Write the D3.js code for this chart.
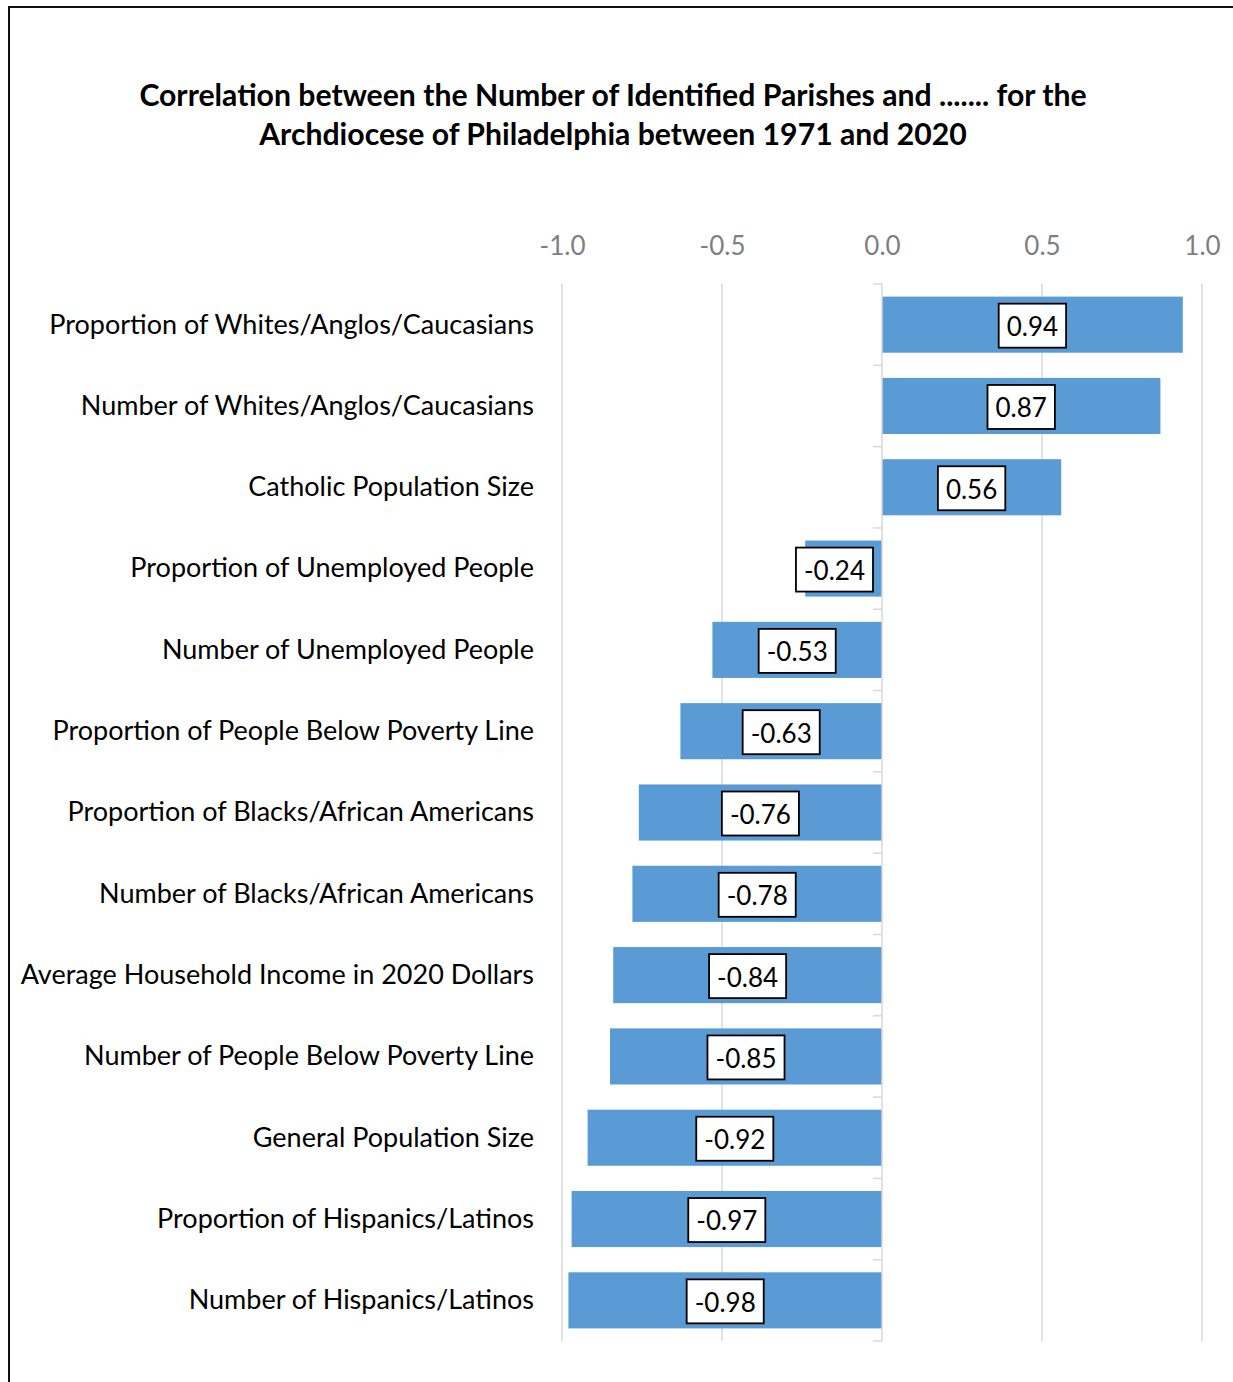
<!DOCTYPE html>
<html>
<head>
<meta charset="utf-8">
<script src="https://cdn.jsdelivr.net/npm/d3@7"></script>
<style>
  html, body { margin: 0; padding: 0; background: #fff; }
  svg { display: block; }
</style>
</head>
<body>
<svg id="chart" width="1233" height="1382"></svg>
<script>
// Correlation coefficients, listed top to bottom
const categories = [
  "Proportion of Whites/Anglos/Caucasians",
  "Number of Whites/Anglos/Caucasians",
  "Catholic Population Size",
  "Proportion of Unemployed People",
  "Number of Unemployed People",
  "Proportion of People Below Poverty Line",
  "Proportion of Blacks/African Americans",
  "Number of Blacks/African Americans",
  "Average Household Income in 2020 Dollars",
  "Number of People Below Poverty Line",
  "General Population Size",
  "Proportion of Hispanics/Latinos",
  "Number of Hispanics/Latinos"
];
const values = [0.94, 0.87, 0.56, -0.24, -0.53, -0.63, -0.76, -0.78, -0.84, -0.85, -0.92, -0.97, -0.98];
const tickValues = [-1.0, -0.5, 0.0, 0.5, 1.0];
const titleLines = [
  "Correlation between the Number of Identified Parishes and ....... for the",
  "Archdiocese of Philadelphia between 1971 and 2020"
];

const FONT = "Lato, 'Liberation Sans', sans-serif";
const svg = d3.select("#chart");

// Outer chart frame (runs off the right and bottom edges)
svg.append("path")
  .attr("d", "M9,1382 V7 H1233")
  .attr("fill", "none")
  .attr("stroke", "#111")
  .attr("stroke-width", 2);

// Title
svg.append("g").selectAll("text")
  .data(titleLines)
  .join("text")
  .attr("x", 613)
  .attr("y", (d, i) => 106 + i * 39)
  .attr("text-anchor", "middle")
  .attr("font-family", FONT)
  .attr("font-weight", "bold")
  .attr("font-size", 30.2)
  .attr("fill", "#000")
  .text(d => d);

const x = d3.scaleLinear().domain([-1, 1]).range([562, 1202]);
const y = d3.scaleBand().domain(categories).range([284, 1341])
  .paddingInner(0.31).paddingOuter(0.155);

// Plain hyphen for negatives
const fmt1 = d => d.toFixed(1);
const fmt2 = d => d.toFixed(2);

// Vertical gridlines
svg.append("g").selectAll("line")
  .data(tickValues.filter(v => v !== 0))
  .join("line")
  .attr("x1", d => x(d)).attr("x2", d => x(d))
  .attr("y1", 284).attr("y2", 1341)
  .attr("stroke", "#d9d9d9")
  .attr("stroke-width", 1.5);

// Top value axis labels
const xAxis = svg.append("g")
  .attr("transform", "translate(0,255)")
  .call(d3.axisTop(x).tickValues(tickValues).tickFormat(fmt1).tickSize(0).tickPadding(0));
xAxis.select(".domain").remove();
xAxis.selectAll("text")
  .attr("font-family", FONT)
  .attr("font-size", 26)
  .attr("fill", "#7f7f7f")
  .attr("dy", 0);

// Bars
svg.append("g").selectAll("rect")
  .data(values)
  .join("rect")
  .attr("x", d => x(Math.min(0, d)))
  .attr("y", (d, i) => y(categories[i]))
  .attr("width", d => Math.abs(x(d) - x(0)))
  .attr("height", y.bandwidth())
  .attr("fill", "#5b9bd5");

// Category axis along zero, with ticks between categories
const x0 = x(0);
const step = y.step();
const cat = svg.append("g");
cat.append("line")
  .attr("x1", x0).attr("x2", x0)
  .attr("y1", 284).attr("y2", 1341)
  .attr("stroke", "#d9d9d9").attr("stroke-width", 1.5);
cat.selectAll("line.tick")
  .data(d3.range(categories.length + 1))
  .join("line")
  .attr("class", "tick")
  .attr("x1", x0 - 9).attr("x2", x0)
  .attr("y1", i => 284 + i * step).attr("y2", i => 284 + i * step)
  .attr("stroke", "#d9d9d9").attr("stroke-width", 1.5);

// Category labels
svg.append("g").selectAll("text")
  .data(categories)
  .join("text")
  .attr("x", 534)
  .attr("y", d => y(d) + y.bandwidth() / 2)
  .attr("dy", "0.33em")
  .attr("text-anchor", "end")
  .attr("font-family", FONT)
  .attr("font-size", 27)
  .attr("fill", "#000")
  .text(d => d);

// Value labels in white boxes, centred on each bar
const labels = svg.append("g").selectAll("g")
  .data(values)
  .join("g");
labels.each(function (d, i) {
  const g = d3.select(this);
  const t = g.append("text")
    .attr("font-family", FONT)
    .attr("font-size", 26)
    .attr("fill", "#000")
    .attr("text-anchor", "middle")
    .attr("dy", "0.4em")
    .text(fmt2(d));
  const w = t.node().getComputedTextLength() + 16;
  const h = 44;
  let cx = (x(d) + x0) / 2;
  if (d < 0) cx = Math.min(cx, x0 - 9 - w / 2);
  else cx = Math.max(cx, x0 + 9 + w / 2);
  const cy = y(categories[i]) + y.bandwidth() / 2 + 1;
  g.insert("rect", "text")
    .attr("x", cx - w / 2).attr("y", cy - h / 2)
    .attr("width", w).attr("height", h)
    .attr("fill", "#fff")
    .attr("stroke", "#000")
    .attr("stroke-width", 1.8);
  t.attr("x", cx).attr("y", cy);
});
</script>
</body>
</html>
